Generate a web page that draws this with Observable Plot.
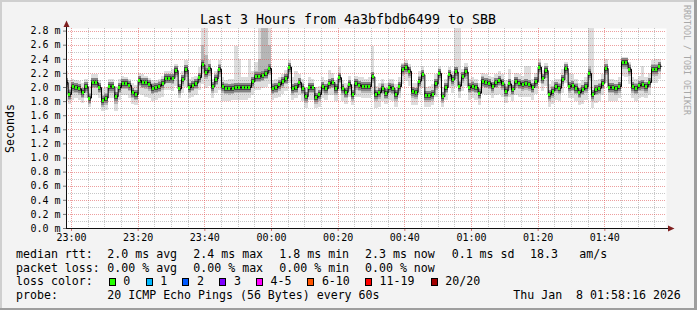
<!DOCTYPE html>
<html><head><meta charset="utf-8">
<script src="https://cdn.jsdelivr.net/npm/d3@7"></script>
<script src="https://cdn.jsdelivr.net/npm/@observablehq/plot@0.6"></script>
<style>
html,body{margin:0;padding:0;background:#f3f3f3;}
#wrap{position:relative;width:697px;height:310px;background:#f3f3f3;overflow:hidden;}
#wrap svg{position:absolute;left:0;top:0;}
#wrap text{white-space:pre;}
</style></head><body><div id="wrap"></div><script>
// ---- data (one value per minute, ms) ----
const firstMinuteUTC = [2026, 0, 7, 22, 58];
const med = [
2.07,1.90,2.01,2.00,1.98,1.93,2.01,1.85,2.07,2.07,
2.00,1.82,1.85,2.01,2.01,1.87,2.00,2.06,2.06,2.03,
1.93,1.90,2.10,2.07,2.07,2.04,1.99,2.00,2.02,2.05,
2.13,2.13,2.13,2.24,1.98,2.11,2.25,2.00,2.03,2.06,
2.14,2.32,2.21,2.27,2.01,2.12,2.26,2.01,1.99,1.98,
1.99,2.00,2.00,2.00,2.00,2.00,2.08,2.16,2.16,2.17,
2.20,2.27,1.99,2.00,2.04,2.08,2.13,2.29,1.98,2.00,
2.07,1.99,1.87,2.00,2.00,1.86,1.90,2.01,1.98,2.06,
2.07,1.98,2.14,1.98,1.93,2.04,1.90,2.05,2.03,2.01,
2.01,2.01,2.15,1.90,1.93,1.99,1.92,2.00,1.99,1.90,
2.01,2.26,2.29,2.23,1.94,1.93,2.09,2.18,1.89,1.89,
1.90,2.05,2.20,1.87,2.00,2.18,2.11,2.22,2.02,2.15,
2.22,2.00,2.02,2.00,1.92,2.09,2.07,2.06,2.01,2.07,
2.10,2.05,1.95,2.05,1.97,2.08,2.06,2.04,2.05,2.04,
2.00,2.08,2.29,2.13,2.24,1.90,1.95,2.01,1.99,2.11,
2.27,2.01,2.03,1.99,1.93,1.97,2.01,2.20,1.90,1.97,
1.99,2.06,2.27,2.00,2.00,1.98,2.01,2.36,2.35,2.26,
2.01,1.99,2.03,2.04,2.01,2.07,2.26,2.26,2.30];
const hi = [
2.22,2.10,2.12,2.10,2.08,2.06,2.12,2.02,2.18,2.18,
2.10,1.98,2.00,2.12,2.12,2.02,2.12,2.16,2.14,2.12,
2.06,2.03,2.20,2.18,2.16,2.13,2.10,2.10,2.12,2.16,
2.22,2.22,2.25,2.32,2.10,2.22,2.38,2.12,2.14,2.16,
2.28,2.86,2.86,2.38,2.12,2.22,2.38,2.14,2.10,2.12,
2.12,2.58,2.40,2.14,2.14,2.40,2.22,2.36,2.86,2.86,
2.86,2.86,2.10,2.12,2.14,2.18,2.24,2.38,2.14,2.22,
2.18,2.12,2.00,2.14,2.12,2.00,2.02,2.14,2.10,2.24,
2.20,2.10,2.30,2.10,2.06,2.16,2.04,2.16,2.14,2.14,
2.12,2.14,2.58,2.02,2.06,2.12,2.06,2.12,2.12,2.04,
2.14,2.34,2.38,2.33,2.06,2.06,2.22,2.30,2.00,2.02,
2.04,2.18,2.30,2.00,2.12,2.28,2.22,2.86,2.86,2.26,
2.34,2.12,2.14,2.12,2.06,2.20,2.18,2.16,2.14,2.18,
2.22,2.18,2.10,2.26,2.10,2.20,2.18,2.16,2.30,2.30,
2.12,2.20,2.40,2.24,2.34,2.04,2.08,2.12,2.12,2.26,
2.36,2.20,2.18,2.12,2.06,2.10,2.14,2.86,2.86,2.10,
2.12,2.18,2.40,2.12,2.12,2.10,2.14,2.42,2.42,2.36,
2.14,2.12,2.16,2.30,2.14,2.20,2.38,2.40,2.40];
const lo = [
1.80,1.76,1.82,1.84,1.82,1.78,1.84,1.72,1.88,1.88,
1.84,1.66,1.68,1.84,1.84,1.66,1.82,1.88,1.88,1.84,
1.76,1.74,1.90,1.88,1.86,1.84,1.80,1.82,1.84,1.86,
1.96,1.96,1.94,2.02,1.84,1.92,2.00,1.84,1.86,1.88,
1.96,2.04,1.98,2.02,1.84,1.92,1.96,1.80,1.80,1.80,
1.82,1.82,1.82,1.82,1.82,1.84,1.88,1.96,1.96,1.98,
2.00,2.04,1.82,1.84,1.86,1.90,1.94,2.06,1.82,1.84,
1.88,1.80,1.70,1.82,1.82,1.70,1.72,1.84,1.82,1.88,
1.88,1.80,1.94,1.80,1.76,1.86,1.74,1.86,1.86,1.84,
1.84,1.84,1.90,1.70,1.72,1.80,1.76,1.82,1.80,1.72,
1.84,2.04,2.08,2.02,1.74,1.74,1.90,1.98,1.72,1.72,
1.74,1.86,2.00,1.72,1.82,1.98,1.92,2.00,1.84,1.94,
2.02,1.82,1.84,1.82,1.74,1.90,1.88,1.88,1.84,1.88,
1.90,1.86,1.78,1.86,1.80,1.88,1.86,1.86,1.86,1.86,
1.82,1.90,2.06,1.94,2.02,1.72,1.76,1.82,1.80,1.92,
2.06,1.84,1.84,1.80,1.74,1.76,1.82,1.96,1.70,1.78,
1.80,1.88,2.06,1.80,1.80,1.80,1.84,2.16,2.14,2.04,
1.84,1.80,1.84,1.86,1.84,1.88,2.06,2.06,2.12];
const mhi = [
2.13,1.97,2.07,2.06,2.04,1.99,2.07,1.92,2.13,2.13,
2.06,1.89,1.91,2.07,2.07,1.93,2.06,2.12,2.12,2.09,
1.99,1.96,2.16,2.13,2.13,2.10,2.05,2.06,2.08,2.11,
2.19,2.19,2.19,2.29,2.04,2.17,2.31,2.06,2.09,2.12,
2.20,2.60,2.45,2.33,2.07,2.18,2.32,2.07,2.05,2.04,
2.05,2.06,2.06,2.06,2.06,2.06,2.14,2.22,2.40,2.86,
2.86,2.60,2.05,2.06,2.10,2.14,2.19,2.34,2.04,2.06,
2.13,2.05,1.93,2.06,2.06,1.92,1.96,2.07,2.04,2.12,
2.13,2.04,2.20,2.04,1.99,2.10,1.96,2.11,2.09,2.07,
2.07,2.07,2.21,1.96,1.99,2.05,1.98,2.06,2.05,1.96,
2.07,2.32,2.34,2.29,2.00,1.99,2.15,2.24,1.95,1.95,
1.96,2.11,2.26,1.93,2.06,2.24,2.17,2.28,2.08,2.21,
2.28,2.06,2.08,2.06,1.98,2.15,2.13,2.12,2.07,2.13,
2.16,2.11,2.01,2.11,2.03,2.14,2.12,2.10,2.11,2.10,
2.06,2.14,2.35,2.19,2.30,1.96,2.01,2.07,2.05,2.17,
2.33,2.07,2.09,2.05,1.99,2.03,2.07,2.30,1.96,2.03,
2.05,2.12,2.33,2.06,2.06,2.04,2.07,2.40,2.40,2.32,
2.07,2.05,2.09,2.10,2.07,2.13,2.32,2.32,2.36];
const mlo = [
1.97,1.81,1.92,1.91,1.89,1.84,1.92,1.76,1.98,1.98,
1.91,1.72,1.75,1.92,1.92,1.76,1.91,1.97,1.97,1.94,
1.84,1.81,2.01,1.98,1.97,1.95,1.90,1.91,1.93,1.96,
2.05,2.05,2.04,2.14,1.89,2.02,2.14,1.91,1.94,1.97,
2.05,2.20,2.11,2.16,1.92,2.03,2.14,1.91,1.90,1.89,
1.90,1.91,1.91,1.91,1.91,1.92,1.99,2.07,2.07,2.08,
2.11,2.17,1.90,1.91,1.95,1.99,2.04,2.19,1.89,1.91,
1.98,1.90,1.77,1.91,1.91,1.76,1.80,1.92,1.89,1.97,
1.98,1.89,2.05,1.89,1.84,1.95,1.80,1.96,1.94,1.92,
1.92,1.92,2.06,1.80,1.83,1.90,1.83,1.91,1.90,1.80,
1.92,2.16,2.19,2.13,1.84,1.83,2.00,2.08,1.79,1.79,
1.80,1.96,2.10,1.78,1.91,2.08,2.02,2.12,1.93,2.05,
2.12,1.91,1.93,1.91,1.83,2.00,1.98,1.97,1.92,1.98,
2.01,1.96,1.86,1.96,1.88,1.99,1.97,1.95,1.96,1.95,
1.91,1.99,2.18,2.04,2.13,1.80,1.85,1.92,1.90,2.02,
2.17,1.92,1.94,1.90,1.84,1.88,1.92,2.10,1.80,1.88,
1.90,1.97,2.17,1.91,1.91,1.89,1.92,2.26,2.25,2.16,
1.92,1.90,1.94,1.95,1.92,1.98,2.16,2.16,2.21];

// axis ticks
const yMajor = [0.0,0.2,0.4,0.6,0.8,1.0,1.2,1.4,1.6,1.8,2.0,2.2,2.4,2.6,2.8];
const yMinor = [0.1,0.3,0.5,0.7,0.9,1.1,1.3,1.5,1.7,1.9,2.1,2.3,2.5,2.7];
const xMajorLabels = ["23:00","23:20","23:40","00:00","00:20","00:40","01:00","01:20","01:40"];
const xDomainUTC = [[2026,0,7,22,58,30],[2026,0,8,1,58,30]];

// legend text
const titleText = "Last 3 Hours from 4a3bfbdb6499 to SBB";
const yLabelText = "Seconds";
const watermark = "RRDTOOL / TOBI OETIKER";
const rttLabel = "median rtt:";
const rttItems = ["2.0 ms avg","2.4 ms max","1.8 ms min","2.3 ms now","0.1 ms sd","18.3","am/s"];
const lossLabel = "packet loss:";
const lossItems = ["0.00 % avg","0.00 % max","0.00 % min","0.00 % now"];
const colorLabel = "loss color:";
const lossNames = ["0","1","2","3","4-5","6-10","11-19","20/20"];
const lossColors = ["#26ff00","#00b8ff","#0059ff","#7e00ff","#ff00ff","#ff5500","#ff0000","#a10000"];
const probeLabel = "probe:";
const probeText = "20 ICMP Echo Pings (56 Bytes) every 60s";
const dateText = "Thu Jan  8 01:58:16 2026";

// ---- build ----
const t0 = Date.UTC(...firstMinuteUTC);
const rows = med.map((m, i) => ({
  t0: new Date(t0 + i * 60000), t1: new Date(t0 + (i + 1) * 60000),
  med: m, lo: lo[i], hi: hi[i], mlo: mlo[i], mhi: mhi[i]
}));
const lineData = rows.map(d => ({t: d.t0, v: d.med})).concat([{t: rows[rows.length-1].t1, v: rows[rows.length-1].med}]);
const xDomain = xDomainUTC.map(a => new Date(Date.UTC(...a)));
const xMajor = xMajorLabels.map(s => {
  const [h, m] = s.split(":").map(Number);
  return new Date(Date.UTC(2026, 0, h >= 12 ? 7 : 8, h, m));
});
const xMinor = d3.utcMinute.every(5).range(xDomain[0], xDomain[1]).filter(d => d.getUTCMinutes() % 20 !== 0);

const grid = {strokeDasharray: "1,1", strokeWidth: 1};
const plot = Plot.plot({
  width: 697, height: 310,
  marginLeft: 66, marginRight: 31, marginTop: 28, marginBottom: 82,
  x: {type: "utc", domain: xDomain},
  y: {domain: [0, 2.8369]},
  style: {background: "transparent", fontFamily: "DejaVu Sans Mono", fontSize: "10px", color: "#000", overflow: "visible"},
  marks: [
    Plot.frame({fill: "white", stroke: null}),
    Plot.rect(rows, {x1: "t0", x2: "t1", y1: "lo", y2: "hi", fill: "#dddddd", clip: true, shapeRendering: "crispEdges"}),
    Plot.rect(rows, {x1: "t0", x2: "t1", y1: "mlo", y2: "mhi", fill: "#b6b6b6", clip: true, shapeRendering: "crispEdges"}),
    Plot.ruleY(rows, {y: "med", x1: "t0", x2: "t1", stroke: "#858585", strokeWidth: 9, clip: true, shapeRendering: "crispEdges"}),
    Plot.ruleY(rows, {y: "med", x1: "t0", x2: "t1", stroke: "#474747", strokeWidth: 5, clip: true, shapeRendering: "crispEdges"}),
    Plot.ruleY(yMinor, {...grid, stroke: "#8f8f8f", strokeOpacity: 0.5}),
    Plot.ruleX(xMinor, {...grid, stroke: "#8f8f8f", strokeOpacity: 0.5}),
    Plot.ruleY(yMajor.filter(v => v > 0), {...grid, stroke: "#de5050", strokeOpacity: 0.55}),
    Plot.ruleX(xMajor, {...grid, stroke: "#de5050", strokeOpacity: 0.55}),
    Plot.line(lineData, {x: "t", y: "v", curve: "step-after", stroke: "#000", strokeWidth: 1, clip: true}),
    Plot.ruleY(rows, {y: "med", x1: "t0", x2: "t1", stroke: "#26ff00", strokeWidth: 3, insetLeft: 0.6, insetRight: 0.6, clip: true, shapeRendering: "crispEdges"}),
    Plot.axisY(yMajor, {tickFormat: d => d.toFixed(1) + " m", tickSize: 3, tickPadding: 3, stroke: "#777", label: null, fontSize: 10}),
    Plot.axisX(xMajor, {tickFormat: d3.utcFormat("%H:%M"), tickSize: 3, tickPadding: 2, stroke: "#d07070", label: null, fontSize: 10})
  ]
});
// snap dotted grid lines to whole pixels (sharp 1px dots without crispEdges)
d3.select(plot).selectAll("g[stroke-dasharray] line").each(function() {
  for (const a of ["x1", "x2", "y1", "y2"]) {
    const v = this.getAttribute(a);
    if (v != null && v !== "") this.setAttribute(a, Math.round(+v));
  }
});
const wrap = document.getElementById("wrap");
wrap.appendChild(plot);

// ---- overlay: frame, axes arrows, texts ----
const ov = d3.select(wrap).append("svg").attr("width", 697).attr("height", 310)
  .style("font-family", "'DejaVu Sans Mono', monospace");
ov.append("rect").attr("x", 0).attr("y", 0).attr("width", 697).attr("height", 2).attr("fill", "#cfcfcf");
ov.append("rect").attr("x", 0).attr("y", 0).attr("width", 2).attr("height", 310).attr("fill", "#cfcfcf");
ov.append("rect").attr("x", 694).attr("y", 0).attr("width", 3).attr("height", 310).attr("fill", "#9e9e9e");
ov.append("rect").attr("x", 0).attr("y", 308).attr("width", 697).attr("height", 2).attr("fill", "#9e9e9e");
ov.append("line").attr("x1", 66).attr("x2", 669).attr("y1", 228.5).attr("y2", 228.5).attr("stroke", "#101010");
ov.append("line").attr("x1", 66.5).attr("x2", 66.5).attr("y1", 229).attr("y2", 26).attr("stroke", "#101010");
ov.append("path").attr("d", "M63.5,27 L69.5,27 L66.5,20.5 Z").attr("fill", "#7f1f1f");
ov.append("path").attr("d", "M668,225.5 L668,231.5 L674.5,228.5 Z").attr("fill", "#7f1f1f");
ov.append("text").attr("x", 348).attr("y", 24).attr("text-anchor", "middle").attr("font-size", 13.3).text(titleText);
ov.append("text").attr("transform", "translate(14.3,128.5) rotate(-90)").attr("text-anchor", "middle").attr("font-size", 11.6).text(yLabelText);
ov.append("text").attr("transform", "translate(684.3,5) rotate(90)").attr("font-size", 8.3).attr("fill", "#a8a8a8").text(watermark);
const fs = 11.6;
const rowsY = [258.3, 271.8, 285.3, 298.8];
const put = (x, y, s) => ov.append("text").attr("x", x).attr("y", y).attr("font-size", fs).text(s);
put(16, rowsY[0], rttLabel);
[107.3, 193.3, 279.3, 365, 451.7, 530, 579.3].forEach((x, i) => put(x, rowsY[0], rttItems[i]));
put(16, rowsY[1], lossLabel);
[107.3, 193.3, 279.3, 365].forEach((x, i) => put(x, rowsY[1], lossItems[i]));
put(16, rowsY[2], colorLabel);
[108.7, 145.7, 182.3, 219.3, 256, 307.3, 365, 430.7].forEach((x, i) => {
  ov.append("rect").attr("x", Math.round(x) + 0.5).attr("y", 278.5).attr("width", 6).attr("height", 7)
    .attr("fill", lossColors[i]).attr("stroke", "#000");
  put(x + 14.6, rowsY[2], lossNames[i]);
});
put(16, rowsY[3], probeLabel);
put(107.3, rowsY[3], probeText);
put(513.3, rowsY[3], dateText);
</script></body></html>
